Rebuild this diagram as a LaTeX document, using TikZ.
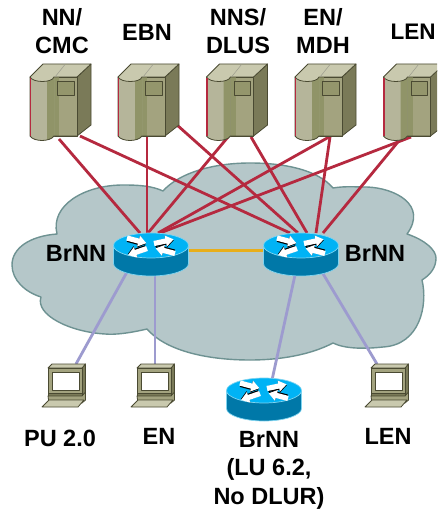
\documentclass[tikz,border=0pt]{standalone}
\usepackage{fontspec}
\setmainfont{Liberation Sans}
\definecolor{cloudf}{HTML}{B5C7C9}
\definecolor{cloudl}{HTML}{6E9292}
\definecolor{redl}{HTML}{B5293F}
\definecolor{yell}{HTML}{E8AE1A}
\definecolor{purp}{HTML}{9D9BCF}
\definecolor{rtop}{HTML}{00B3F5}
\definecolor{rside}{HTML}{0078A8}
\definecolor{redge}{HTML}{7FD4F0}
\definecolor{sedge}{HTML}{4A4A32}
\definecolor{stopc}{HTML}{C9C9AE}
\definecolor{sright}{HTML}{7A7A58}
\definecolor{slight}{HTML}{B5B59A}
\definecolor{smid}{HTML}{909468}
\definecolor{sfront}{HTML}{A3A37F}
\definecolor{swin}{HTML}{94966C}
\tikzset{
  lab/.style={font=\fontsize{23.5}{28.5}\selectfont\bfseries,align=center,inner sep=0pt,text=black},
  redlink/.style={draw=redl,line width=2.8pt},
  purplink/.style={draw=purp,line width=2.8pt},
  yellink/.style={draw=yell,line width=3pt},
  sline/.style={draw=sedge,line width=0.8pt,line join=round},
}
\newcommand{\serverat}[1]{%
 \begin{scope}[shift={(#1,64)}]
  \path[sline,fill=sright] (47,13)--(61,0)--(61,61)--(47,72)--cycle;
  \path[sline,fill=sfront] (24,13) rectangle (47,72);
  \fill[smid] (24,13) rectangle (29,72);
  \path[fill=slight] (0,13)--(0,72) .. controls (4,78) and (20,78) .. (24,72)--(24,13)--cycle;
  \fill[smid] (17,15) -- (24,13) -- (24,72) .. controls (22.5,74) and (20,75.5) .. (17,76)--cycle;
  \path[sline] (0,13)--(0,72) .. controls (4,78) and (20,78) .. (24,72)--(47,72);
  \path[sline,fill=stopc] (0,13)--(13,0)--(61,0)--(47,13)--(24,13) .. controls (22,19) and (3,19) .. (0,13)--cycle;
  \draw[sedge!55,line width=0.5pt] (35,0.5)--(25,13);
  \draw[redl,line width=1.5pt] (0.7,14)--(0.7,72);
  \path[sline,fill=swin] (27.5,17) rectangle (44,31);
 \end{scope}}
\newcommand{\rarrow}[3]{% x,y,rot
 \begin{scope}[shift={(#1,#2)},rotate=#3]
  \fill[black] (0.8,-2.2)--(12,-2.2)--(12,-5.4)--(20,0.9)--(12,6.6)--(12,3.8)--(0.8,3.8)--cycle;
  \fill[white] (0,-2.6)--(12,-2.6)--(12,-5.6)--(20,0)--(12,5.6)--(12,2.6)--(0,2.6)--cycle;
 \end{scope}}
\newcommand{\routerat}[2]{%
 \begin{scope}[shift={(#1,#2)}]
  \path[draw=redge,fill=rside,line width=0.7pt] (-37.5,0)--(-37.5,18) .. controls (-37.5,25) and (-20,30.5) .. (0,30.5) .. controls (20,30.5) and (37.5,25) .. (37.5,18)--(37.5,0)--cycle;
  \path[draw=redge,fill=rtop,line width=0.7pt] (-37.5,0) .. controls (-37.5,-7) and (-20,-12.5) .. (0,-12.5) .. controls (20,-12.5) and (37.5,-7) .. (37.5,0) .. controls (37.5,7) and (20,12.5) .. (0,12.5) .. controls (-20,12.5) and (-37.5,7) .. (-37.5,0)--cycle;
  \rarrow{-24}{-7.5}{-15}
  \rarrow{3}{-2}{12}
  \rarrow{-4}{3}{-161}
  \rarrow{24}{8}{165}
 \end{scope}}
\newcommand{\laptopat}[1]{%
 \begin{scope}[shift={(#1,0)}]
  \path[sline,fill=sright] (34,368)--(37.5,364)--(37.5,393)--(34,396)--cycle;
  \path[sline,fill=stopc] (0,368)--(4,364)--(37.5,364)--(34,368)--cycle;
  \path[sline,fill=sfront] (0,368) rectangle (34,393);
  \path[sline,fill=white] (4,372) rectangle (31,390);
  \path[sline,fill=sright] (0,393) rectangle (34,396);
  \path[sline,fill=sfront] (0,396)--(34,396)--(37.5,392)--(37.5,400)--(34,403)--(1,403)--cycle;
  \path[sline,fill=stopc] (1,400)--(36,400)--(30,407)--(-6,407)--cycle;
 \end{scope}}
\begin{document}
\begin{tikzpicture}[x=1pt,y=-1pt]
\useasboundingbox (0,0) rectangle (437,510);
\clip (0,0) rectangle (437,510);
\fill[white] (0,0) rectangle (437,510);
% cloud
\path[fill=cloudf,draw=cloudl,line width=1.4pt,line join=round]
 (57,234) .. controls (50,205) and (85,185) .. (123,185)
 .. controls (140,185) and (152,186) .. (163,191)
 .. controls (180,172) and (215,163) .. (250,163)
 .. controls (285,163) and (318,170) .. (333,188)
 .. controls (345,186) and (355,187) .. (367,187)
 .. controls (395,188) and (428,205) .. (407,234)
 .. controls (425,240) and (436,250) .. (436,258)
 .. controls (436,268) and (430,275) .. (422,280)
 .. controls (428,305) and (420,345) .. (383,347)
 .. controls (365,349) and (345,349) .. (333,343)
 .. controls (310,355) and (280,360) .. (250,360)
 .. controls (205,360) and (165,350) .. (147,329)
 .. controls (130,333) and (115,335) .. (105,334)
 .. controls (70,332) and (35,315) .. (41,297)
 .. controls (25,292) and (12,280) .. (12,265)
 .. controls (12,248) and (30,236) .. (57,234) -- cycle;
% connector ends
\coordinate (r1top) at (147,233); \coordinate (r2top) at (305,233);
\coordinate (r1) at (151,250.5); \coordinate (r2) at (301,250.5);
\coordinate (s1a) at (59,139); \coordinate (s1b) at (80,136);
\coordinate (s2a) at (147,137); \coordinate (s2b) at (177,125);
\coordinate (s3a) at (228,137); \coordinate (s3b) at (251,137);
\coordinate (s4a) at (329,137); \coordinate (s4b) at (330,137);
\coordinate (s5a) at (411,137); \coordinate (s5b) at (402,137);
\coordinate (r1a) at (140,233); \coordinate (r1c) at (148,233); \coordinate (r1d) at (158,233); \coordinate (r1e) at (160,233);
\coordinate (r2a) at (290,233); \coordinate (r2b) at (298,233); \coordinate (r2c) at (307,233); \coordinate (r2d) at (316,233); \coordinate (r2e) at (323,233);
\coordinate (r1p) at (127,272); \coordinate (r1q) at (155,275); \coordinate (r2p) at (295,275); \coordinate (r2q) at (322,272);
\coordinate (l1) at (76,364); \coordinate (l2) at (155,364); \coordinate (l3) at (377,364); \coordinate (r3) at (272,380);
% connectors
\draw[redlink] (s1a)--(r1a);
\draw[redlink] (s2a)--(r1top);
\draw[redlink] (s3a)--(r1c);
\draw[redlink] (s4a)--(r1d);
\draw[redlink] (s5a)--(r1e);
\draw[redlink] (s1b)--(r2a);
\draw[redlink] (s2b)--(r2b);
\draw[redlink] (s3b)--(r2c);
\draw[redlink] (s4b)--(r2d);
\draw[redlink] (s5b)--(r2e);
\draw[yellink] (r1)--(r2);
\draw[purplink] (r1p)--(l1);
\draw[purplink] (r1q)--(l2);
\draw[purplink] (r2p)--(r3);
\draw[purplink] (r2q)--(l3);
% icons
\serverat{30}\serverat{118}\serverat{206.5}\serverat{295}\serverat{383.5}
\routerat{151}{245.5}\routerat{301}{245.5}\routerat{264}{390.5}
\laptopat{48}\laptopat{137}\laptopat{371}
% labels
\node[lab] (t1) at (62,31) {NN/\\CMC};
\node[lab] (t2) at (147,32) {EBN};
\node[lab] (t3) at (238,31) {NNS/\\DLUS};
\node[lab] (t4) at (323,31) {EN/\\MDH};
\node[lab,font=\fontsize{22.5}{27}\selectfont\bfseries] (t5) at (413,32) {LEN};
\node[lab] (b1) at (76,253) {BrNN};
\node[lab] (b2) at (375,253) {BrNN};
\node[lab] (p1) at (60,438) {PU 2.0};
\node[lab] (p2) at (159,436) {EN};
\node[lab] (p3) at (269,470) {BrNN\\(LU 6.2,\\No DLUR)};
\node[lab] (p4) at (388,436) {LEN};
\end{tikzpicture}
\end{document}
